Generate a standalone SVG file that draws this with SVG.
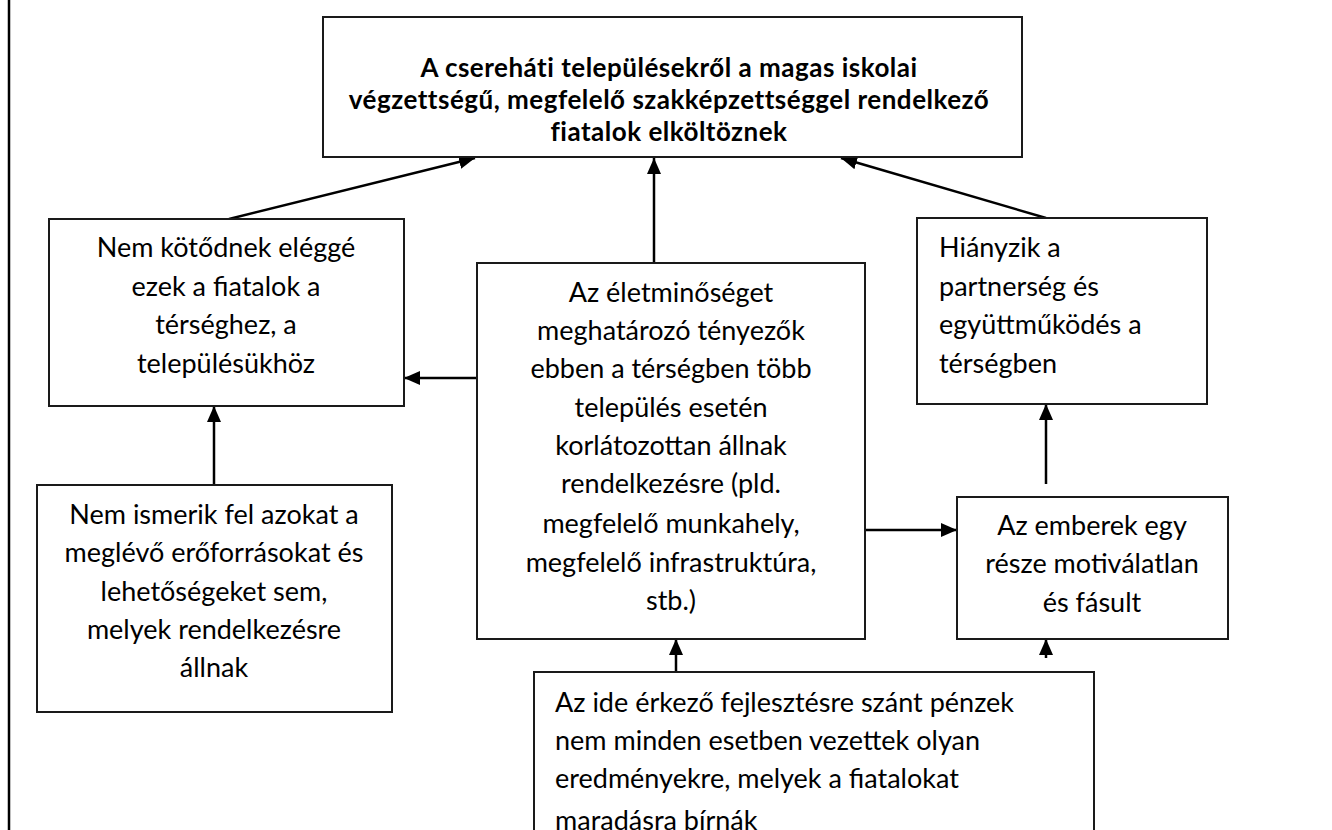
<svg xmlns="http://www.w3.org/2000/svg" width="1332" height="830" viewBox="0 0 1332 830">
<style>
.box{fill:#fff;stroke:#1a1a1a;stroke-width:2}
.t{font-family:Lato,"Liberation Sans",sans-serif;font-size:27px;fill:#000}
.c{text-anchor:middle}
.b{font-weight:bold;font-size:26px;letter-spacing:0.5px}
.ar{stroke:#000;stroke-width:2.5;fill:none;marker-end:url(#ah)}
</style>
<defs>
<marker id="ah" viewBox="0 0 16 14" refX="16" refY="7" markerWidth="16" markerHeight="14" orient="auto" markerUnits="userSpaceOnUse">
<path d="M0,0 L16,7 L0,14 z" fill="#000"/>
</marker>
</defs>
<rect width="1332" height="830" fill="#fff"/>
<line x1="9" y1="0" x2="9" y2="830" stroke="#000" stroke-width="2.5"/>

<g id="connectors">
<line class="ar" x1="229" y1="219" x2="475" y2="158"/>
<line class="ar" x1="654" y1="263" x2="654" y2="158"/>
<line class="ar" x1="1046" y1="218" x2="841" y2="158"/>
<line class="ar" x1="478" y1="378" x2="404" y2="378"/>
<line class="ar" x1="214" y1="485" x2="214" y2="406"/>
<line class="ar" x1="865" y1="530" x2="957" y2="530"/>
<line class="ar" x1="1046" y1="484" x2="1046" y2="404"/>
<line class="ar" x1="676" y1="672" x2="676" y2="639"/>
<line class="ar" x1="1046" y1="658" x2="1046" y2="639"/>
</g>

<g id="top">
<rect class="box" x="323" y="17" width="699" height="140"/>
<text class="t b c"><tspan x="669" y="77">A csereháti településekről a magas iskolai</tspan><tspan x="669" y="109">végzettségű, megfelelő szakképzettséggel rendelkező</tspan><tspan x="669" y="141">fiatalok elköltöznek</tspan></text>
</g>

<g id="kotodnek">
<rect class="box" x="49" y="219" width="355" height="187"/>
<text class="t c"><tspan x="226" y="257">Nem kötődnek eléggé</tspan><tspan x="226" y="296">ezek a fiatalok a</tspan><tspan x="226" y="334">térséghez, a</tspan><tspan x="226" y="373">településükhöz</tspan></text>
</g>

<g id="eletminoseg">
<rect class="box" x="477" y="263" width="388" height="376"/>
<text class="t c"><tspan x="671" y="302">Az életminőséget</tspan><tspan x="671" y="340">meghatározó tényezők</tspan><tspan x="671" y="378">ebben a térségben több</tspan><tspan x="671" y="417">település esetén</tspan><tspan x="671" y="455">korlátozottan állnak</tspan><tspan x="671" y="493">rendelkezésre (pld.</tspan><tspan x="671" y="533">megfelelő munkahely,</tspan><tspan x="671" y="572">megfelelő infrastruktúra,</tspan><tspan x="671" y="610">stb.)</tspan></text>
</g>

<g id="hianyzik">
<rect class="box" x="917" y="218" width="290" height="186"/>
<text class="t"><tspan x="939" y="257">Hiányzik a</tspan><tspan x="939" y="296">partnerség és</tspan><tspan x="939" y="334">együttműködés a</tspan><tspan x="939" y="373">térségben</tspan></text>
</g>

<g id="ismerik">
<rect class="box" x="37" y="485" width="355" height="227"/>
<text class="t c"><tspan x="214" y="524">Nem ismerik fel azokat a</tspan><tspan x="214" y="562">meglévő erőforrásokat és</tspan><tspan x="214" y="601">lehetőségeket sem,</tspan><tspan x="214" y="639">melyek rendelkezésre</tspan><tspan x="214" y="677">állnak</tspan></text>
</g>

<g id="emberek">
<rect class="box" x="957" y="497" width="271" height="142"/>
<text class="t c"><tspan x="1092" y="535">Az emberek egy</tspan><tspan x="1092" y="573">része motiválatlan</tspan><tspan x="1092" y="612">és fásult</tspan></text>
</g>

<g id="penzek">
<rect class="box" x="534" y="672" width="560" height="200"/>
<text class="t"><tspan x="555" y="712">Az ide érkező fejlesztésre szánt pénzek</tspan><tspan x="555" y="750">nem minden esetben vezettek olyan</tspan><tspan x="555" y="788">eredményekre, melyek a fiatalokat</tspan><tspan x="555" y="830">maradásra bírnák</tspan></text>
</g>
</svg>
